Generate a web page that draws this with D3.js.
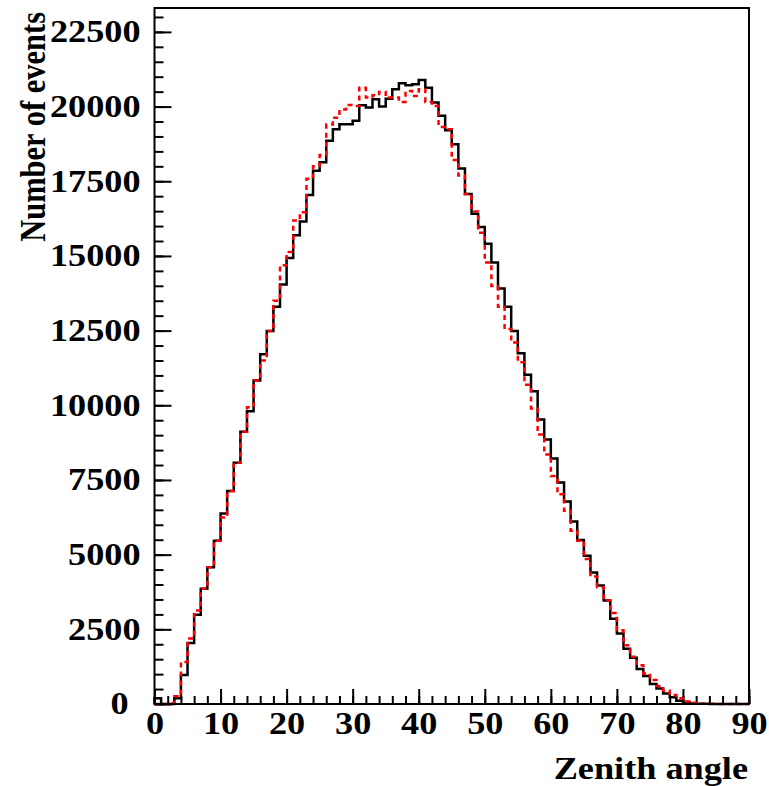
<!DOCTYPE html>
<html>
<head>
<meta charset="utf-8">
<script src="https://cdn.jsdelivr.net/npm/d3@7"></script>
<style>
  body { margin: 0; background: #fff; }
  text { font-family: "Liberation Serif", "Times New Roman", serif; font-weight: bold; }
</style>
</head>
<body>
<svg id="chart"></svg>
<script>
// zenith angle bins, 1 degree wide, lower edges 0..89
const binEdges = d3.range(0, 90);

// solid black histogram
const blackCounts = [
  190, 0, 0, 190, 967, 2044, 2989, 3855, 4578, 5467,
  6378, 7133, 8078, 9111, 9800, 10833, 11711, 12489, 13300, 14044,
  14933, 15689, 16155, 17044, 17855, 18133, 18855, 19244, 19411, 19411,
  19522, 20044, 19966, 20244, 19999, 20266, 20577, 20777, 20710, 20744,
  20888, 20633, 20133, 19690, 19210, 18740, 17930, 17077, 16410, 15965,
  15410, 14777, 13910, 13300, 12488, 11744, 11022, 10466, 9522, 8855,
  8222, 7411, 6777, 6111, 5489, 4966, 4400, 3970, 3466, 2855,
  2360, 1850, 1550, 1170, 940, 667, 522, 355, 222, 111,
  44, 20, 10, 5, 3, 2, 1, 0, 0, 0
];

// dashed red histogram
const redCounts = [
  0, 0, 30, 260, 1410, 2190, 3133, 3855, 4578, 5467,
  6244, 7133, 8078, 9111, 9933, 10833, 11500, 12489, 13500, 14690,
  15130, 16190, 16460, 17580, 18000, 18380, 19400, 19630, 19900, 20050,
  20020, 20633, 20300, 20375, 20490, 20300, 20300, 20155, 20520, 20355,
  20577, 20155, 20020, 19320, 19240, 18210, 17690, 17070, 16490, 15780,
  14777, 13990, 13300, 12550, 12100, 11440, 10690, 9890, 9020, 8355,
  7633, 7022, 6466, 5800, 5466, 4855, 4266, 3911, 3466, 3050,
  2466, 1966, 1580, 1300, 1022, 800, 600, 444, 300, 189,
  80, 40, 20, 10, 5, 3, 2, 1, 0, 0
];

const xMajorTicks = [0, 10, 20, 30, 40, 50, 60, 70, 80, 90];
const yMajorTicks = [0, 2500, 5000, 7500, 10000, 12500, 15000, 17500, 20000, 22500];

// the original glyphs are a bit wider than they are tall
const stretchX = 1.17;

class StepHistogram {
    constructor(_config) {
        this.config = {
            parentElement: _config.parentElement,
            containerWidth: _config.containerWidth || 769,
            containerHeight: _config.containerHeight || 786,
            margin: { top: 8, right: 20, bottom: 82, left: 154.5 }
        }
        this.initVis();
    }

    initVis() {
        let vis = this;
        const m = vis.config.margin;
        vis.width = vis.config.containerWidth - m.left - m.right;
        vis.height = vis.config.containerHeight - m.top - m.bottom;

        vis.svg = d3.select(vis.config.parentElement)
            .attr('width', vis.config.containerWidth)
            .attr('height', vis.config.containerHeight);

        vis.chart = vis.svg.append('g')
            .attr('transform', `translate(${m.left},${m.top})`);

        vis.x = d3.scaleLinear().domain([0, 90]).range([0, vis.width]);
        vis.y = d3.scaleLinear().domain([0, 23300]).range([vis.height, 0]);

        this.updateVis();
    }

    stepPoints(counts) {
        // close the outline down to zero at both ends
        const pts = [[0, 0]];
        binEdges.forEach((e, i) => pts.push([e, counts[i]]));
        pts.push([90, counts[counts.length - 1]]);
        pts.push([90, 0]);
        return pts;
    }

    updateVis() {
        let vis = this;

        // minor ticks
        vis.chart.append('g')
            .attr('class', 'y-minor')
            .call(d3.axisLeft(vis.y).tickValues(d3.range(0, 23300, 500)).tickSize(-9).tickFormat(''))
            .call(g => g.select('.domain').remove());
        vis.chart.append('g')
            .attr('class', 'x-minor')
            .attr('transform', `translate(0,${vis.height})`)
            .call(d3.axisBottom(vis.x).tickValues(d3.range(0, 91, 2)).tickSize(-8).tickFormat(''))
            .call(g => g.select('.domain').remove());

        // major ticks and labels
        vis.chart.append('g')
            .attr('class', 'y-axis')
            .call(d3.axisLeft(vis.y).tickValues(yMajorTicks).tickSize(-17).tickFormat(d3.format('d')))
            .call(g => g.select('.domain').remove())
            .selectAll('text')
            .attr('x', 0)
            .attr('transform', d => `translate(${d === 0 ? -26 : -14},0) scale(${stretchX},1)`)
            .attr('font-size', 31)
            .attr('font-family', '"Liberation Serif", serif')
            .attr('font-weight', 'bold')
            .attr('fill', '#000');
        vis.chart.append('g')
            .attr('class', 'x-axis')
            .attr('transform', `translate(0,${vis.height})`)
            .call(d3.axisBottom(vis.x).tickValues(xMajorTicks).tickSize(-15).tickPadding(8).tickFormat(d3.format('d')))
            .call(g => g.select('.domain').remove())
            .selectAll('text')
            .attr('transform', `scale(${stretchX},1)`)
            .attr('font-size', 31)
            .attr('font-family', '"Liberation Serif", serif')
            .attr('font-weight', 'bold')
            .attr('fill', '#000');

        vis.chart.selectAll('.tick line')
            .attr('stroke', '#000')
            .attr('stroke-width', 2);

        const line = d3.line()
            .x(d => vis.x(d[0]))
            .y(d => vis.y(d[1]))
            .curve(d3.curveStepAfter);

        vis.chart.append('path')
            .datum(vis.stepPoints(blackCounts))
            .attr('d', line)
            .attr('fill', 'none')
            .attr('stroke', '#000')
            .attr('stroke-width', 2.5);

        vis.chart.append('path')
            .datum(vis.stepPoints(redCounts))
            .attr('d', line)
            .attr('fill', 'none')
            .attr('stroke', '#ff0000')
            .attr('stroke-width', 2.5)
            .attr('stroke-dasharray', '5,4');

        // frame
        vis.chart.append('rect')
            .attr('x', 0)
            .attr('y', 0)
            .attr('width', vis.width)
            .attr('height', vis.height)
            .attr('fill', 'none')
            .attr('stroke', '#000')
            .attr('stroke-width', 2);

        vis.svg.append('text')
            .attr('transform', `translate(45,12) scale(${stretchX},1) rotate(-90)`)
            .attr('text-anchor', 'end')
            .attr('font-size', 30.5)
            .text('Number of events');

        vis.svg.append('text')
            .attr('transform', `translate(748,779) scale(${stretchX},1)`)
            .attr('text-anchor', 'end')
            .attr('font-size', 31)
            .text('Zenith angle');
    }
}

new StepHistogram({ parentElement: '#chart', containerWidth: 769, containerHeight: 786 });
</script>
</body>
</html>
